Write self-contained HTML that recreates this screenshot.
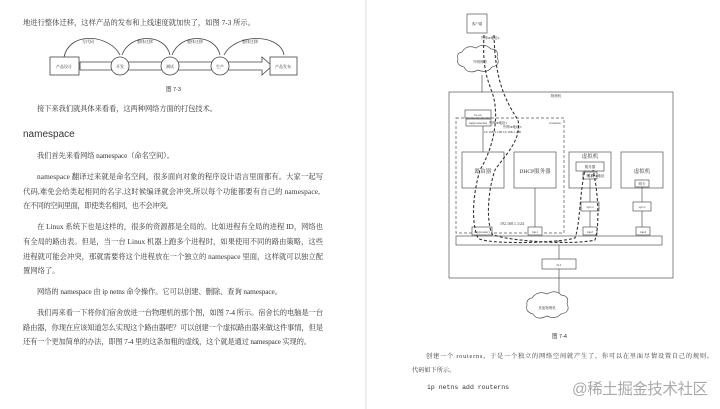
<!DOCTYPE html>
<html><head><meta charset="utf-8"><style>
html,body{margin:0;padding:0;background:#fff;}
svg{display:block}
text{font-family:"Liberation Serif","Noto Serif CJK SC",serif;fill:#333;}
.s{font-family:"Liberation Sans","Noto Sans CJK SC",sans-serif;}
.m{font-family:"Liberation Mono",monospace;}
</style></head><body>
<svg width="720" height="409" viewBox="0 0 720 409" xmlns="http://www.w3.org/2000/svg">
<rect width="720" height="409" fill="#fff"/>
<line x1="366" y1="0" x2="366" y2="409" stroke="#eee" stroke-width="2"/>
<!-- left page -->
<g font-size="7.3">
<text x="23" y="25" textLength="232">地进行整体迁移，这样产品的发布和上线速度就加快了，如图 7-3 所示。</text>
<text x="37" y="111" textLength="180">接下来我们就具体来看看，这两种网络方面的打包技术。</text>
<text x="37" y="158" textLength="137">我们首先来看网络 namespace（命名空间）。</text>
<text x="37" y="179" textLength="286">namespace 翻译过来就是命名空间，很多面向对象的程序设计语言里面都有。大家一起写</text>
<text x="23" y="194" textLength="297">代码,难免会给类起相同的名字,这时候编译就会冲突,所以每个功能都要有自己的 namespace,</text>
<text x="23" y="208" textLength="150">在不同的空间里面，即使类名相同，也不会冲突。</text>
<text x="37" y="229" textLength="286">在 Linux 系统下也是这样的，很多的资源都是全局的。比如进程有全局的进程 ID，网络也</text>
<text x="23" y="244" textLength="300">有全局的路由表。但是，当一台 Linux 机器上跑多个进程时，如果使用不同的路由策略，这些</text>
<text x="23" y="259" textLength="300">进程就可能会冲突，那就需要将这个进程放在一个独立的 namespace 里面，这样就可以独立配</text>
<text x="23" y="273">置网络了。</text>
<text x="37" y="294" textLength="245">网络的 namespace 由 ip netns 命令操作。它可以创建、删除、查询 namespace。</text>
<text x="37" y="315" textLength="286">我们再来看一下将你们宿舍放进一台物理机的那个图，如图 7-4 所示。宿舍长的电脑是一台</text>
<text x="23" y="330" textLength="300">路由器，你现在应该知道怎么实现这个路由器吧？可以创建一个虚拟路由器来做这件事情，但是</text>
<text x="23" y="344" textLength="288">还有一个更加简单的办法，即图 7-4 里的这条加粗的虚线，这个就是通过 namespace 实现的。</text>
</g>
<text x="23" y="137" font-size="10" class="s" fill="#333">namespace</text>
<!-- fig 7-3 -->
<g stroke="#444" fill="#fff" stroke-width="0.8">
<path d="M80 62 H262 V57 L272 66 L262 75 V70 H80 Z"/>
<rect x="50" y="57" width="29" height="18"/>
<rect x="270" y="57" width="27" height="18"/>
<circle cx="120" cy="66" r="9"/><circle cx="170" cy="66" r="9"/><circle cx="220" cy="66" r="9"/>
<path d="M64 57 C70 30, 110 35, 120 55" fill="none"/>
<path d="M122 55 C130 33, 165 33, 170 55" fill="none"/>
<path d="M172 55 C180 33, 215 33, 220 55" fill="none"/>
<path d="M224 55 C235 33, 280 33, 284 55" fill="none"/>
</g>
<g font-size="4" class="s" text-anchor="middle">
<text x="64" y="68">产品设计</text><text x="120" y="68">开发</text><text x="170" y="68">测试</text><text x="220" y="68">生产</text><text x="283" y="68">产品发布</text>
<text x="88" y="43">写代码</text><text x="145" y="43">整体迁移</text><text x="195" y="43">整体迁移</text><text x="250" y="43">整体迁移</text>
</g>
<text x="166" y="91" font-size="5.5" class="s">图 7-3</text>
<!-- fig 7-4 -->
<g stroke="#555" fill="#fff" stroke-width="0.7">
<rect x="467" y="14" width="20" height="19"/>
<path d="M462 52 q5-8 14-4 q8-6 15 1 q8 0 6 8 q4 8-5 10 q-5 7-14 3 q-10 5-14-3 q-8-2-6-8 q-2-6 4-7z"/>
<line x1="482" y1="75" x2="482" y2="92"/>
<rect x="449" y="92" width="224" height="186"/>
<rect x="465" y="110" width="26" height="8"/>
<rect x="466" y="119" width="25" height="7"/>
<rect x="456" y="118" width="108" height="115" fill="none" stroke-dasharray="3,2"/>
<line x1="483" y1="126" x2="483" y2="152"/>
<rect x="462" y="152" width="42" height="36"/>
<rect x="514" y="152" width="42" height="36"/>
<rect x="569" y="152" width="42" height="36"/>
<rect x="621" y="152" width="42" height="36"/>
<rect x="576" y="162" width="28" height="9"/>
<rect x="583" y="172" width="14" height="7"/>
<rect x="635" y="180" width="14" height="7"/>
<line x1="590" y1="179" x2="590" y2="202"/><line x1="642" y1="187" x2="642" y2="202"/>
<rect x="581" y="202" width="18" height="9"/><rect x="633" y="202" width="18" height="9"/>
<line x1="590" y1="211" x2="590" y2="227"/><line x1="642" y1="211" x2="642" y2="227"/>
<line x1="535" y1="188" x2="535" y2="227"/>
<rect x="472" y="227" width="20" height="8"/><rect x="528" y="227" width="14" height="8"/>
<rect x="583" y="227" width="14" height="8"/><rect x="636" y="227" width="14" height="8"/>
<rect x="456" y="236" width="206" height="9"/>
<line x1="559" y1="245" x2="559" y2="259"/>
<rect x="542" y="259" width="34" height="10"/>
<line x1="559" y1="269" x2="559" y2="294"/>
<path d="M532 298 q6-8 15-4 q9-5 14 1 q9 1 6 9 q4 8-6 10 q-6 6-14 2 q-10 5-14-2 q-8-2-6-9 q-1-6 5-7z"/>
</g>
<g stroke="#333" stroke-width="1.1" fill="none" stroke-dasharray="3,2">
<path d="M484 35 C482 70, 488 80, 493 95 C500 120, 492 150, 480 170 C474 190, 470 220, 478 238 C485 245, 560 243, 575 238 C580 225, 580 190, 585 170"/>
<path d="M494 35 C495 80, 505 100, 518 120 C522 140, 505 155, 495 170 C488 190, 486 220, 492 234 C500 240, 570 246, 595 240 C600 225, 598 190, 593 170"/>
</g>
<g font-size="3.5" class="s" text-anchor="middle" fill="#333">
<text x="477" y="25">客户端</text><text x="480" y="63">外网网络</text><text x="556" y="97">物理机</text>
<text x="478" y="116">br-ex</text><text x="478" y="124">tap(routerns)</text><text x="498" y="124">外网IP地址1</text>
<text x="512" y="128">外网IP地址3</text><text x="493" y="133">10.168.1.100</text><text x="512" y="133">10.168.1.200</text>
<text x="555" y="124">routerns</text><text x="490" y="39">外网IP地址2</text>
<text x="590" y="168">服务器</text><text x="596" y="177">私网IP地址</text><text x="590" y="177">网卡</text><text x="642" y="185">网卡</text>
<text x="590" y="208">vp1o</text><text x="642" y="208">vp1o</text>
<text x="482" y="233">tap(router)</text><text x="535" y="233">tap1</text><text x="590" y="233">tap2</text><text x="643" y="233">tap4</text>
<text x="559" y="242">br0</text><text x="559" y="266">br1</text><text x="547" y="309">其他物理机</text>
</g>
<g font-size="5.5" class="s" text-anchor="middle" fill="#333">
<text x="483" y="173">路由器</text><text x="535" y="173">DHCP服务器</text><text x="590" y="158">虚拟机</text><text x="642" y="173">虚拟机</text>
<text x="512" y="225" font-size="4">192.168.1.1/24</text>
</g>
<text x="552" y="338" font-size="5.5" class="s">图 7-4</text>
<g font-size="6.2">
<text x="426" y="358" textLength="287">创建一个 routerns，于是一个独立的网络空间就产生了，你可以在里面尽情设置自己的规则。</text>
<text x="412" y="372">代码如下所示。</text>
</g>
<text x="427" y="389" font-size="6.5" class="m" fill="#555" textLength="82">ip netns add routerns</text>
<text x="572" y="394" font-size="15.5" class="s" fill="#aaa" textLength="136" style="fill:#aaa">@稀土掘金技术社区</text>
</svg>
</body></html>
